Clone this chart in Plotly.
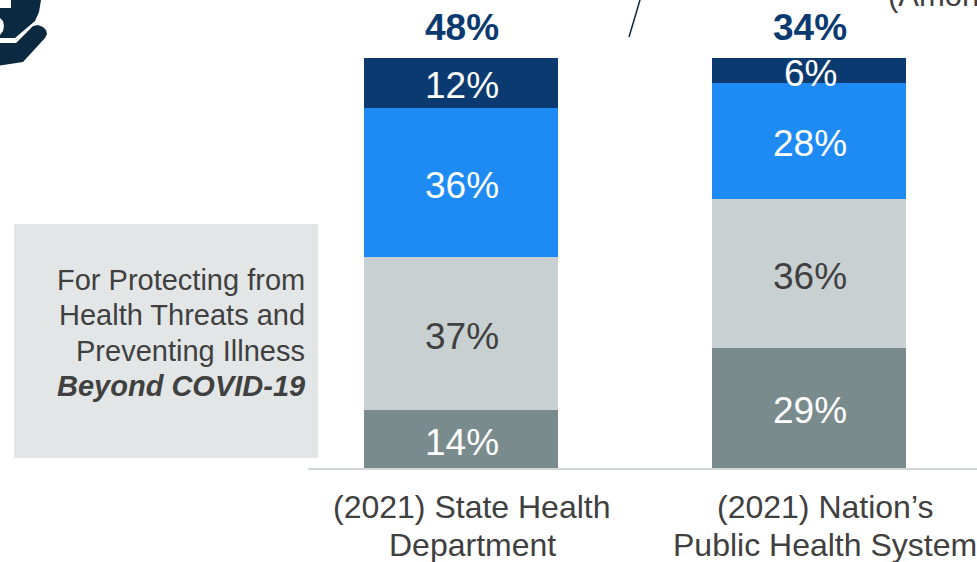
import plotly.graph_objects as go

categories = ["(2021) State Health<br>Department", "(2021) Nation’s<br>Public Health System"]
series_names = ["Very low", "Low", "High", "Very high"]
seg_bottom = [14, 29]
seg_lower = [37, 36]
seg_upper = [36, 28]
seg_top = [12, 6]
totals = [48, 34]
colors = ["#7A8B8D", "#C8D0D2", "#1E8BF5", "#0A3A70"]
text_colors = ["#FFFFFF", "#404040", "#FFFFFF", "#FFFFFF"]
box_lines = ["For Protecting from", "Health Threats and", "Preventing Illness", "<b><i>Beyond COVID-19</i></b>"]
FONT = "Liberation Sans"
W, H = 977, 562
L, B = 308, 94

def px(x):
    return (x - L) / (W - L)

def py(y):
    return (H - B - y) / (H - B)

segments = [seg_bottom, seg_lower, seg_upper, seg_top]
fig = go.Figure()
base = [0, 0]
for name, vals, c, tc in zip(series_names, segments, colors, text_colors):
    fig.add_bar(x=[0, 1], y=vals, name=name, marker=dict(color=c, line=dict(width=0)), hoverinfo="skip")
    for i, v in enumerate(vals):
        fig.add_annotation(x=i, y=base[i] + v / 2, text=f"{v}%", showarrow=False, yshift=-3, xshift=1,
                           font=dict(family=FONT, size=37, color=tc))
        base[i] += v

for i, t in enumerate(totals):
    fig.add_annotation(x=i, y=base[i], text=f"<b>{t}%</b>", showarrow=False, yanchor="bottom", yshift=8, xshift=1,
                       font=dict(family=FONT, size=37, color="#0A3A70"))

label_shift = [11, 16]
for i, label in enumerate(categories):
    for j, part in enumerate(label.split("<br>")):
        fig.add_annotation(xref="x", yref="paper", x=i, y=py(507 + 38 * j), text=part, showarrow=False,
                           yanchor="middle", xshift=label_shift[i],
                           font=dict(family=FONT, size=32, color="#404040"))

for i, line in enumerate(box_lines):
    fig.add_annotation(xref="paper", yref="paper", x=px(307), y=py(280 + 35.3 * i), text=line, showarrow=False,
                       xanchor="right", yanchor="middle", align="right",
                       font=dict(family=FONT, size=29, color="#404040"))

fig.add_annotation(xref="paper", yref="paper", x=px(886), y=py(-5), text="(Among", showarrow=False,
                   xanchor="left", yanchor="middle", font=dict(family=FONT, size=31, color="#404040"))

shapes = [
    dict(type="rect", xref="paper", yref="paper", x0=px(14), x1=px(318), y0=py(458), y1=py(224),
         fillcolor="#E3E6E7", line=dict(width=0), layer="below"),
    dict(type="line", xref="paper", yref="paper", x0=px(640), y0=py(0), x1=px(629), y1=py(37),
         line=dict(color="#0B2A42", width=1.5)),
]

def poly(points):
    return "M " + " L ".join(f"{px(x)} {py(y)}" for x, y in points) + " Z"

icon_upper = [(41, 0), (39, 12), (35, 21), (15, 38), (0, 38), (0, 35), (3, 31), (4, 26), (3, 21), (0, 18), (0, 8), (11, 8), (11, 0)]
icon_hand = [(0, 43), (16, 43), (28, 31), (33, 26), (38, 25), (43, 27), (46, 30), (47, 34), (45, 38), (23, 62), (0, 65.5)]
for pts in (icon_upper, icon_hand):
    shapes.append(dict(type="path", xref="paper", yref="paper", path=poly(pts), fillcolor="#0B2A42", line=dict(width=0)))

fig.update_layout(
    width=W, height=H, barmode="stack", bargap=0.443, showlegend=False,
    margin=dict(l=L, r=0, t=0, b=B, autoexpand=False), paper_bgcolor="white", plot_bgcolor="white",
    shapes=shapes,
    xaxis=dict(range=[(L - 461) / 348, (W - 461) / 348], showticklabels=False,
               showgrid=False, zeroline=False, showline=True, linecolor="#D2D6D6", linewidth=2, ticks=""),
    yaxis=dict(range=[0, 113], visible=False),
)
fig.write_html("out.html", config=dict(displayModeBar=False),
               post_script="document.body.style.margin='0';document.body.style.overflow='hidden';window.dispatchEvent(new Event('resize'));")
